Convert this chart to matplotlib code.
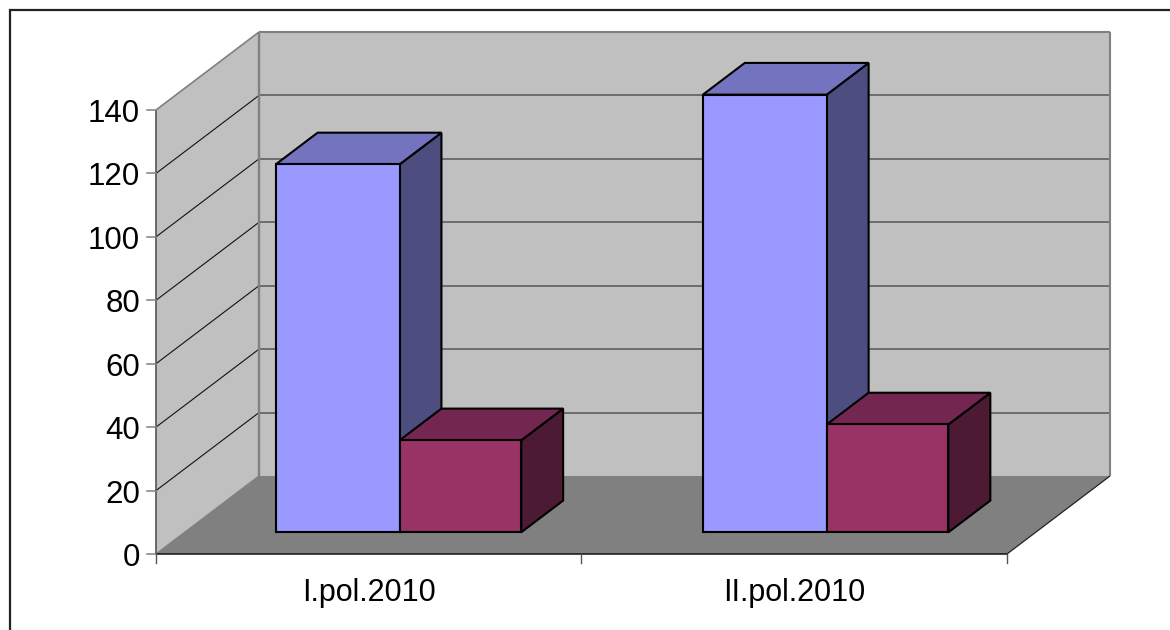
"""Excel-style 3D column chart, drawn by projecting (category, value, depth) to pixels."""
import matplotlib
matplotlib.use("Agg")
import matplotlib.pyplot as plt
from matplotlib.patches import Polygon, Rectangle

categories = ["I.pol.2010", "II.pol.2010"]
series_a = [116, 138]
series_b = [29, 34]
y_ticks = [0, 20, 40, 60, 80, 100, 120, 140]

W, H = 1170, 630
X0, Y0 = 156.0, 554.0       # front-left corner at value 0
CAT_W = 425.5
VAL_H = 444.0 / 140
DX, DY = 103.0, -78.0       # full floor depth


def proj(c, v, d=0.0):
    return X0 + c * CAT_W + d * DX, Y0 - v * VAL_H + d * DY


def quad(ax, pts, fc, ec="none", lw=0.0, z=1):
    ax.add_patch(Polygon([proj(*p) for p in pts], closed=True, fc=fc, ec=ec, lw=lw,
                         joinstyle="miter", zorder=z))


def line(ax, a, b, color, lw, z=2):
    xa, ya = proj(*a)
    xb, yb = proj(*b)
    ax.plot([xa, xb], [ya, yb], color=color, lw=lw, solid_capstyle="butt", zorder=z)


def box(ax, c0, c1, v, front, top, side, z):
    d0, d1 = 0.278, 0.685
    quad(ax, [(c1, 0, d0), (c1, 0, d1), (c1, v, d1), (c1, v, d0)], side, "black", 1.5, z)
    quad(ax, [(c0, v, d0), (c1, v, d0), (c1, v, d1), (c0, v, d1)], top, "black", 1.5, z)
    quad(ax, [(c0, 0, d0), (c1, 0, d0), (c1, v, d0), (c0, v, d0)], front, "black", 1.5, z)


def main():
    plt.rcParams["font.family"] = ["Liberation Sans", "DejaVu Sans"]
    fig = plt.figure(figsize=(W / 100, H / 100), dpi=100)
    ax = fig.add_axes([0, 0, 1, 1])
    ax.set_xlim(0, W)
    ax.set_ylim(H, 0)
    ax.axis("off")

    ax.add_patch(Rectangle((9.5, 10), W, H, fc="white", ec="#222222", lw=1.6, zorder=0))

    n = len(categories)
    top = y_ticks[-1]
    quad(ax, [(0, 0, 0), (0, 0, 1), (0, top, 1), (0, top, 0)], "#C0C0C0")
    quad(ax, [(0, 0, 1), (n, 0, 1), (n, top, 1), (0, top, 1)], "#C0C0C0")
    quad(ax, [(0, 0, 0), (n, 0, 0), (n, 0, 1), (0, 0, 1)], "#808080")

    for v in y_ticks[1:-1]:
        line(ax, (0, v, 0), (0, v, 1), "#111111", 0.8)
        line(ax, (0, v, 1), (n, v, 1), "#555555", 1.1)
    line(ax, (0, top, 0), (0, top, 1), "#808080", 1.2)
    line(ax, (0, top, 1), (n, top, 1), "#808080", 1.5)
    line(ax, (0, 0, 1), (0, top, 1), "#808080", 1.7)
    line(ax, (n, 0, 1), (n, top, 1), "#808080", 1.5)
    line(ax, (0, 0, 0), (0, 0, 1), "#808080", 1.0)
    line(ax, (n, 0, 0), (n, 0, 1), "#222222", 0.9)

    # axes
    line(ax, (0, 0, 0), (0, top, 0), "#555555", 1.2, 3)
    line(ax, (0, 0, 0), (n, 0, 0), "#111111", 1.1, 3)
    for v in y_ticks:
        x, y = proj(0, v)
        ax.plot([x - 9, x], [y, y], color="#808080", lw=1.1, zorder=3)
        ax.text(x - 16, y + 4, str(v), ha="right", va="center", fontsize=22.5, color="black")
    for i in range(n + 1):
        x, y = proj(i, 0)
        ax.plot([x - 0.5, x - 0.5], [y, y + 9], color="#555555", lw=1.0, zorder=3)
    for i, name in enumerate(categories):
        x, y = proj(i + 0.5, 0)
        ax.text(x, 593, name, ha="center", va="center", fontsize=22, color="black")

    for i in range(n):
        c0 = i + 0.214 + 0.004 * i
        c1 = c0 + 0.291
        c2 = c1 + 0.286
        box(ax, c0, c1, series_a[i], "#9999FF", "#7373BF", "#4D4D80", 5 + 2 * i)
        box(ax, c1, c2, series_b[i], "#993366", "#732650", "#4D1A33", 6 + 2 * i)

    fig.savefig("out.png", dpi=100)
    plt.close(fig)


if __name__ == "__main__":
    main()
